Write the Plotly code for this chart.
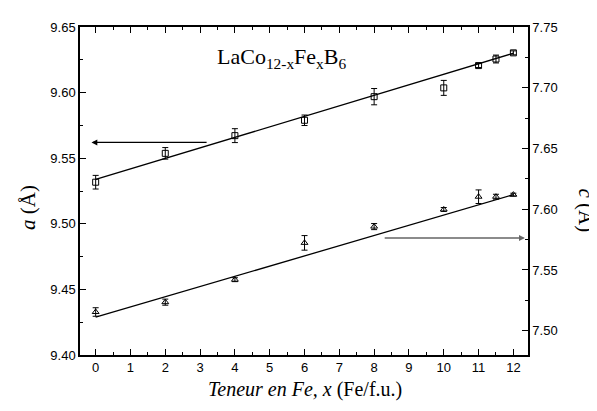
import numpy as np
import plotly.graph_objects as go

# Data
x_fe = [0, 2, 4, 6, 8, 10, 11, 11.5, 12]
a_vals = [9.5317, 9.5537, 9.5672, 9.5789, 9.5969, 9.6036, 9.6206, 9.6256, 9.6303]
a_err = [0.0052, 0.0044, 0.0053, 0.0040, 0.0062, 0.0057, 0.0015, 0.0030, 0.0015]
c_vals = [7.5154, 7.5235, 7.5420, 7.5723, 7.5857, 7.5998, 7.6103, 7.6103, 7.6120]
c_err = [0.0035, 0.0025, 0.0016, 0.0060, 0.0025, 0.0016, 0.0056, 0.0020, 0.0012]
x_ticks = list(range(0, 13))

# Linear fit parameters (intercept, slope) as drawn in the reference
fit_a = [9.5338, 0.00802]
fit_c = [7.5111, 0.00841]

xfit = np.array([x_fe[0], x_fe[-1]])
ya_fit = fit_a[0] + fit_a[1] * xfit
yc_fit = fit_c[0] + fit_c[1] * xfit

fig = go.Figure()
fig.add_trace(go.Scatter(x=xfit, y=ya_fit, mode="lines",
                         line=dict(color="black", width=1.3), showlegend=False))
fig.add_trace(go.Scatter(x=x_fe, y=a_vals, mode="markers",
                         marker=dict(symbol="square-open", size=6, color="black", line=dict(width=1)),
                         error_y=dict(type="data", array=a_err, width=3, thickness=1, color="black"),
                         showlegend=False))
fig.add_trace(go.Scatter(x=xfit, y=yc_fit, mode="lines", yaxis="y2",
                         line=dict(color="black", width=1.3), showlegend=False))
fig.add_trace(go.Scatter(x=x_fe, y=c_vals, mode="markers", yaxis="y2",
                         marker=dict(symbol="triangle-up-open", size=6, color="black", line=dict(width=1)),
                         error_y=dict(type="data", array=c_err, width=3, thickness=1, color="black"),
                         showlegend=False))

tickfont = dict(family="Liberation Sans, Arial", size=13, color="black")
serif = "Liberation Serif, Times New Roman"

# page body has an 8px default margin; size the figure to fit the window
fig.update_layout(
    width=589, height=403,
    margin=dict(l=72, r=69, t=13, b=56),
    plot_bgcolor="white", paper_bgcolor="white",
    xaxis=dict(range=[-0.45, 12.42], tickvals=x_ticks, ticktext=[str(v) for v in x_ticks],
               ticks="inside", ticklen=6, tickwidth=1, tickcolor="black",
               minor=dict(dtick=0.5, tick0=0, ticks="inside", ticklen=3.5, tickcolor="black"),
               showline=True, linecolor="black", linewidth=1.5, mirror="ticks",
               showgrid=False, zeroline=False, tickfont=tickfont),
    yaxis=dict(range=[9.40, 9.65], dtick=0.05, tick0=9.40, tickformat=".2f",
               ticks="inside", ticklen=6, tickwidth=1, tickcolor="black",
               minor=dict(dtick=0.025, tick0=9.40, ticks="inside", ticklen=3.5, tickcolor="black"),
               showline=True, linecolor="black", linewidth=1.5,
               showgrid=False, zeroline=False, tickfont=tickfont),
    yaxis2=dict(range=[7.48, 7.75], dtick=0.05, tick0=7.50, tickformat=".2f",
                overlaying="y", side="right",
                ticks="inside", ticklen=6, tickwidth=1, tickcolor="black",
                minor=dict(dtick=0.025, tick0=7.50, ticks="inside", ticklen=3.5, tickcolor="black"),
                showline=True, linecolor="black", linewidth=1.5,
                showgrid=False, zeroline=False, tickfont=tickfont),
)

annotations = [
    dict(text="LaCo<sub>12-x</sub>Fe<sub>x</sub>B<sub>6</sub>", xref="paper", yref="paper",
         x=0.301, y=0.905, xanchor="left", yanchor="middle", showarrow=False,
         font=dict(family=serif, size=22, color="black")),
    dict(text="<i>a</i> (Å)", xref="paper", yref="paper", x=-0.115, y=0.45,
         xanchor="center", yanchor="middle", textangle=-90, showarrow=False,
         font=dict(family=serif, size=21, color="black")),
    dict(text="<i>c</i> (Å)", xref="paper", yref="paper", x=1.13, y=0.44,
         xanchor="center", yanchor="middle", textangle=90, showarrow=False,
         font=dict(family=serif, size=21, color="black")),
    dict(text="<i>Teneur en Fe, x</i> (Fe/f.u.)", xref="paper", yref="paper", x=0.502, y=-0.105,
         xanchor="center", yanchor="middle", showarrow=False,
         font=dict(family=serif, size=20, color="black")),
    dict(text="", x=-0.12, y=9.562, xref="x", yref="y", ax=3.23, ay=9.562, axref="x", ayref="y",
         showarrow=True, arrowhead=2, arrowsize=0.9, arrowwidth=1.3, arrowcolor="black"),
    dict(text="", x=12.33, y=7.5763, xref="x", yref="y2", ax=8.26, ay=7.5763, axref="x", ayref="y2",
         showarrow=True, arrowhead=2, arrowsize=0.9, arrowwidth=1.3, arrowcolor="#666666"),
]
fig.update_layout(annotations=annotations)

fig.write_html("out.html")
